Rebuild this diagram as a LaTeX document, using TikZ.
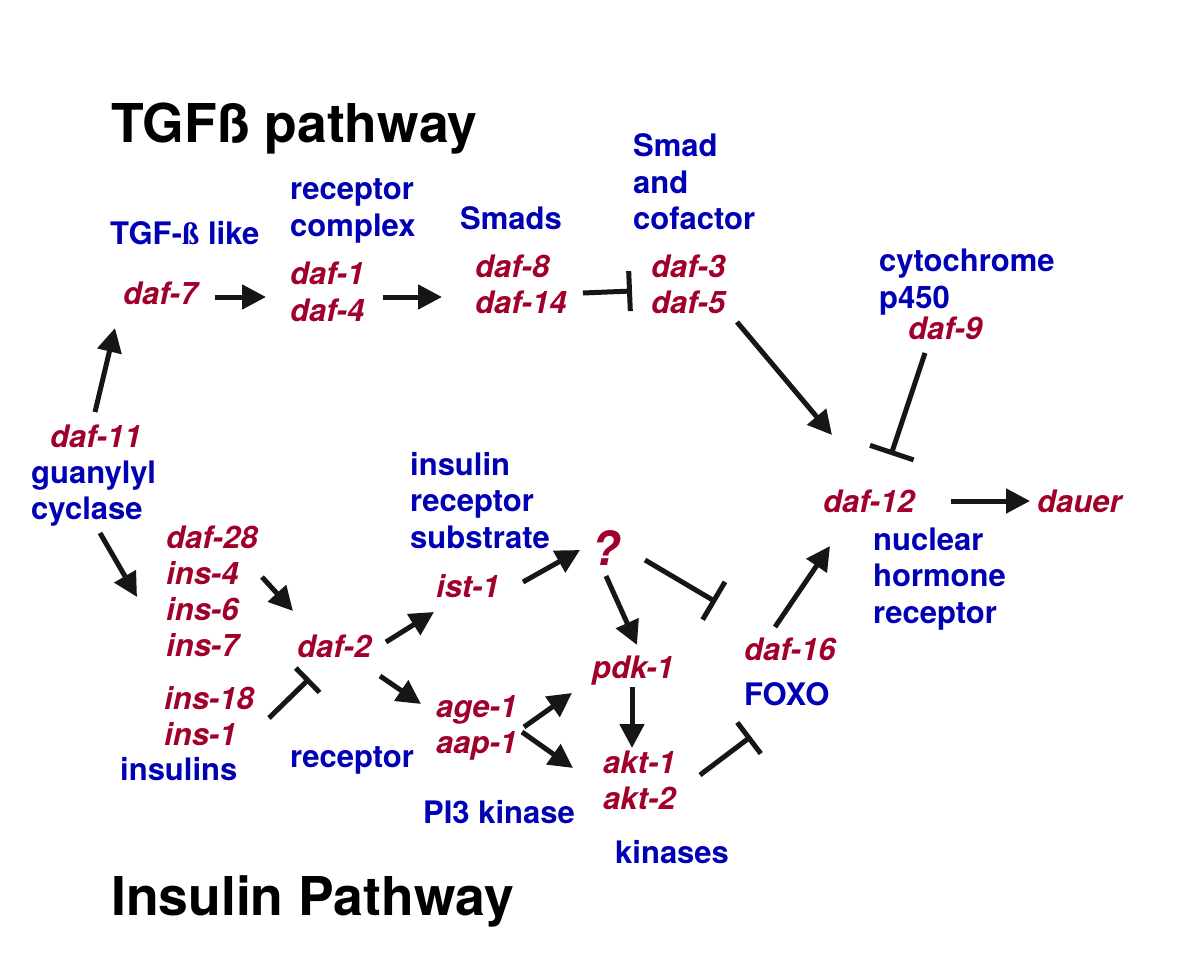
\documentclass[tikz,border=0pt]{standalone}
\usepackage{fontspec}
\setmainfont{TeX Gyre Heros}
\newfontfamily\serifB{Liberation Serif}
\usetikzlibrary{arrows.meta}
\definecolor{genered}{RGB}{160,0,42}
\definecolor{lblblue}{RGB}{0,0,180}
\definecolor{arrowgray}{RGB}{22,22,22}
\newcommand\genef{\fontsize{31}{36}\selectfont\bfseries\itshape}
\newcommand\lblf{\fontsize{31}{36.5}\selectfont\bfseries}
\newcommand\titlef{\fontsize{53.5}{60}\selectfont\bfseries}
\newcommand\ml[1]{\begin{tabular}[t]{@{}l@{}}#1\end{tabular}}
\begin{document}
\begin{tikzpicture}[x=1pt,y=-1pt,
  gene/.style={anchor=base west, inner sep=0pt, text=genered, font=\genef},
  lbl/.style={anchor=base west, inner sep=0pt, text=lblblue, font=\lblf},
  ttl/.style={anchor=base west, inner sep=0pt, text=black, font=\titlef},
  arr/.style={line width=5pt, draw=arrowgray, -{Triangle[length=24pt,width=24pt]}},
  inh/.style={line width=5pt, draw=arrowgray, -{Bar[width=#1]}},
  inh/.default=40pt]
\useasboundingbox (0,0) rectangle (1200,960);
\fill[white] (0,0) rectangle (1200,960);

% titles
\node[ttl] (ttgf) at (111,143) {TGFß pathway};
\node[ttl] (tins) at (111,915) {Insulin Pathway};

% blue labels
\node[lbl] (lbltgf) at (110,245) {TGF-{\serifB ß} like};
\node[lbl] (lblrc) at (290,200) {\ml{receptor\\complex}};
\node[lbl] (lblsmads) at (460,230) {Smads};
\node[lbl] (lblsmad) at (633,157) {\ml{Smad\\and\\cofactor}};
\node[lbl] (lblcyt) at (879,272) {\ml{cytochrome\\p450}};
\node[lbl] (lblnhr) at (873,550) {\ml{nuclear\\hormone\\receptor}};
\node[lbl] (lblgc) at (31,483) {\ml{guanylyl\\cyclase}};
\node[lbl] (lblins) at (120,780) {insulins};
\node[lbl] (lblrec) at (290,767) {receptor};
\node[lbl] (lblirs) at (410,475) {\ml{insulin\\receptor\\substrate}};
\node[lbl] (lblpi3) at (423,823) {PI3 kinase};
\node[lbl] (lblkin) at (615,863) {kinases};
\node[lbl] (lblfoxo) at (744,705) {FOXO};

% genes
\node[gene] (daf7) at (123,305) {daf-7};
\node[gene] (daf1) at (290,285) {\ml{daf-1\\daf-4}};
\node[gene] (daf8) at (475,277) {\ml{daf-8\\daf-14}};
\node[gene] (daf3) at (651,277) {\ml{daf-3\\daf-5}};
\node[gene] (daf9) at (908,339) {daf-9};
\node[gene] (daf12) at (823,512) {daf-12};
\node[gene] (dauer) at (1037,512) {dauer};
\node[gene] (daf11) at (50,447) {daf-11};
\node[gene] (daf28) at (166,548) {\ml{daf-28\\ins-4\\ins-6\\ins-7}};
\node[gene] (ins18) at (164,709) {\ml{ins-18\\ins-1}};
\node[gene] (daf2) at (297,657) {daf-2};
\node[gene] (ist1) at (436,597) {ist-1};
\node[gene, font=\fontsize{47}{50}\selectfont\bfseries\itshape] (q) at (591,565) {?};
\node[gene] (pdk1) at (592,678) {pdk-1};
\node[gene] (age1) at (436,717) {\ml{age-1\\aap-1}};
\node[gene] (akt1) at (603,773) {\ml{akt-1\\akt-2}};
\node[gene] (daf16) at (744,660) {daf-16};

% connector end points
\coordinate (daf7-o) at (215,297);  \coordinate (daf1-i) at (266,297);
\coordinate (daf1-o) at (383,297);  \coordinate (daf8-i) at (442,297);
\coordinate (daf8-o) at (583,293);  \coordinate (daf3-i) at (632,291);
\coordinate (daf3-o) at (737,322);  \coordinate (daf12-i1) at (832,435);
\coordinate (daf9-o) at (925,353);  \coordinate (daf12-i2) at (891,455);
\coordinate (daf11-o) at (95,412);  \coordinate (daf7-i) at (115,328);
\coordinate (lblgc-o) at (100,533); \coordinate (daf28-i) at (137,597);
\coordinate (daf28-o) at (262,577); \coordinate (daf2-i1) at (293,611);
\coordinate (ins18-o) at (269,718); \coordinate (daf2-i2) at (309.5,678.5);
\coordinate (daf2-o1) at (386,642); \coordinate (ist1-i) at (434,612);
\coordinate (daf2-o2) at (380,676); \coordinate (age1-i) at (421,704);
\coordinate (ist1-o) at (523,582);  \coordinate (q-i) at (580,550);
\coordinate (q-o1) at (606,576);    \coordinate (pdk1-i1) at (637,645);
\coordinate (q-o2) at (645,560);    \coordinate (daf16-i1) at (716,602);
\coordinate (age1-o1) at (524,727); \coordinate (pdk1-i2) at (572,693);
\coordinate (age1-o2) at (522,732); \coordinate (akt1-i1) at (573,768);
\coordinate (pdk1-o) at (632,687);  \coordinate (akt1-i2) at (632,748);
\coordinate (akt1-o) at (700,775);  \coordinate (daf16-i2) at (751,736.5);
\coordinate (daf16-o) at (775,627); \coordinate (daf12-i3) at (830,546);
\coordinate (daf12-o) at (951,501); \coordinate (dauer-i) at (1030,501);

% connectors
\draw[arr] (daf7-o) -- (daf1-i);
\draw[arr] (daf1-o) -- (daf8-i);
\draw[inh] (daf8-o) -- (daf3-i);
\draw[arr] (daf3-o) -- (daf12-i1);
\draw[inh=46pt] (daf9-o) -- (daf12-i2);
\draw[arr] (daf11-o) -- (daf7-i);
\draw[arr] (lblgc-o) -- (daf28-i);
\draw[arr] (daf28-o) -- (daf2-i1);
\draw[inh=34pt] (ins18-o) -- (daf2-i2);
\draw[arr] (daf2-o1) -- (ist1-i);
\draw[arr] (daf2-o2) -- (age1-i);
\draw[arr] (ist1-o) -- (q-i);
\draw[arr] (q-o1) -- (pdk1-i1);
\draw[inh=44pt] (q-o2) -- (daf16-i1);
\draw[arr] (age1-o1) -- (pdk1-i2);
\draw[arr] (age1-o2) -- (akt1-i1);
\draw[arr] (pdk1-o) -- (akt1-i2);
\draw[inh=39pt] (akt1-o) -- (daf16-i2);
\draw[arr] (daf16-o) -- (daf12-i3);
\draw[arr] (daf12-o) -- (dauer-i);
\end{tikzpicture}
\end{document}
